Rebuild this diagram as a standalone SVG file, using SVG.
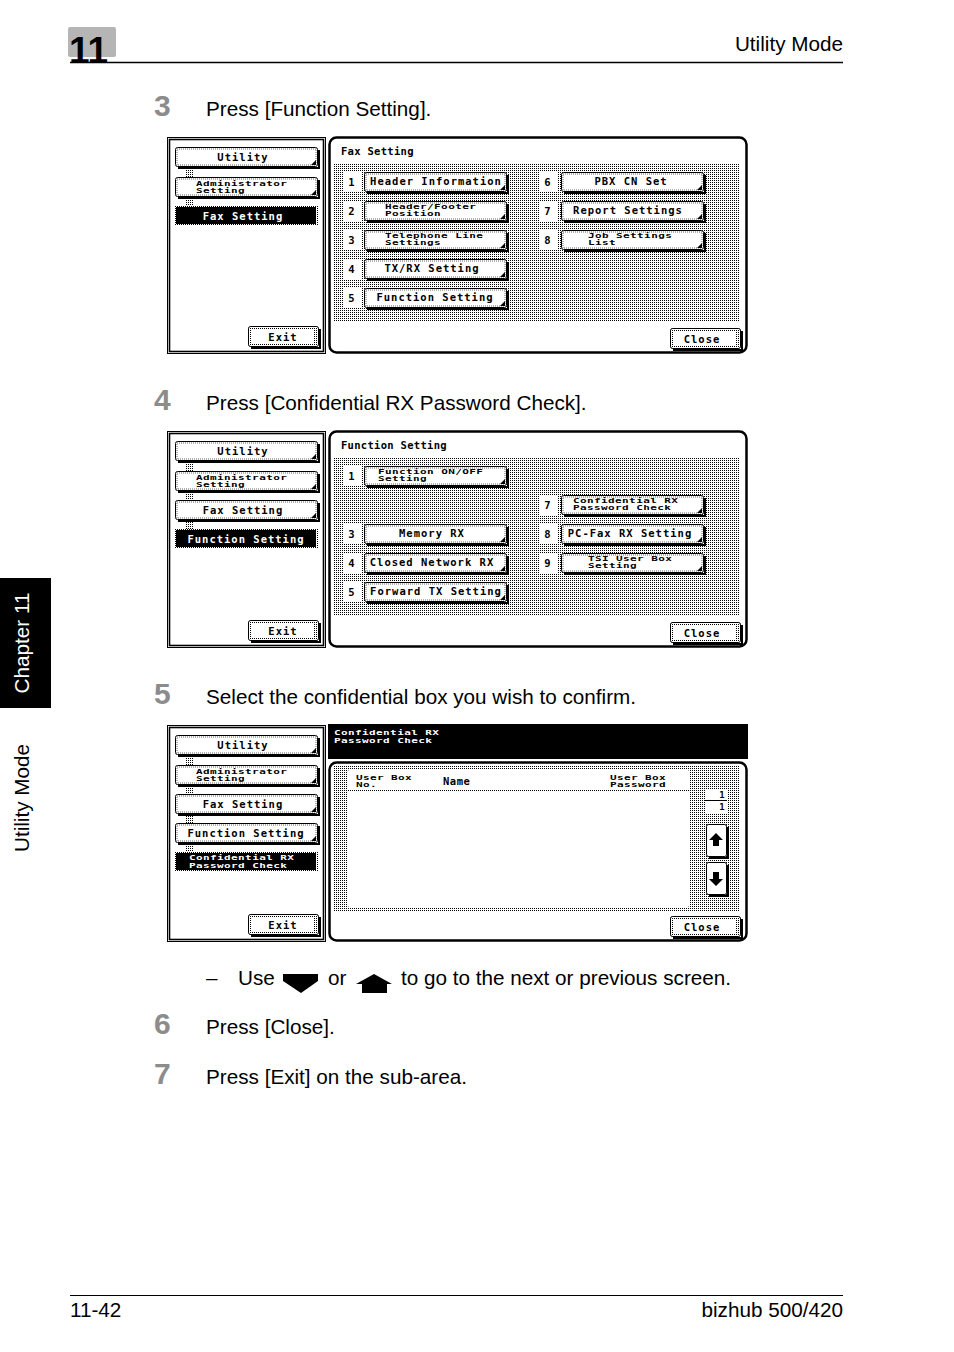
<svg xmlns="http://www.w3.org/2000/svg" xmlns:xlink="http://www.w3.org/1999/xlink" width="954" height="1352" viewBox="0 0 954 1352">
<style>
.p{font-family:"Liberation Sans",Arial,sans-serif;font-size:20.7px;fill:#000}
.n{font-family:"Liberation Sans",Arial,sans-serif;font-size:30px;font-weight:bold;fill:#8c8c8c}
.m{font-family:"DejaVu Sans Mono","Liberation Mono",monospace;font-size:10.5px;font-weight:bold;letter-spacing:1px;fill:#000}
.s{font-family:"DejaVu Sans Mono","Liberation Mono",monospace;font-size:11px;font-weight:bold;letter-spacing:.4px;fill:#000}
.c{text-anchor:middle}
.w{fill:#fff}
.ln{stroke:#000;fill:none}
</style>
<defs>
<pattern id="dots" width="2" height="2" patternUnits="userSpaceOnUse"><rect width="2" height="2" fill="#fff"/><rect width="1" height="1" fill="#000"/></pattern>
<symbol id="btn" overflow="visible">
<rect x=".5" y=".5" width="142" height="19" rx="2" fill="#fff" stroke="#000"/>
<rect x="2" y="2" width="139" height="16" fill="none" stroke="#000" stroke-width=".6" stroke-dasharray="1 1"/>
<path d="M144,3 V21 H3" fill="none" stroke="#000" stroke-width="2"/>
<path d="M141,13 V18 H136 Z"/>
</symbol>
<symbol id="sel" overflow="visible">
<rect x="0" y="0" width="143" height="20" fill="url(#dots)"/>
<rect x="1" y="1" width="140" height="17" fill="#000"/>
</symbol>
<symbol id="cb" overflow="visible">
<rect x=".5" y=".5" width="70" height="20" rx="2" fill="url(#dots)" stroke="#000"/>
<rect x="4" y="3" width="62" height="15" fill="#fff"/>
<path d="M72,3 V22 H3" fill="none" stroke="#000" stroke-width="2"/>
</symbol>
<symbol id="nb" overflow="visible"><rect width="18" height="20" fill="#fff"/></symbol>
<symbol id="ab" overflow="visible">
<rect x=".5" y=".5" width="20" height="32" rx="2" fill="#fff" stroke="#000"/>
<path d="M22,3 V34 H3" fill="none" stroke="#000" stroke-width="2"/>
</symbol>
<symbol id="stubs" overflow="visible">
<rect x="185" y="169" width="9" height="8" fill="url(#dots)"/>
<rect x="185" y="199" width="9" height="7" fill="url(#dots)"/>
</symbol>
<symbol id="leftpanel" overflow="visible">
<rect x="167.5" y="137.5" width="158" height="216" fill="#fff" stroke="#000"/>
<rect x="169.5" y="139.5" width="154" height="212" fill="none" stroke="#000" stroke-width="1.6"/>
</symbol>
</defs>

<g id="header">
<rect x="68" y="27" width="48" height="30" rx="2" fill="#b5b5b5"/>
<text x="69" y="63" style="font-family:'Liberation Sans',Arial,sans-serif;font-size:37px;font-weight:bold" fill="#000">11</text>
<line x1="70" y1="62.5" x2="843" y2="62.5" stroke="#000" stroke-width="1.3"/>
<text class="p" x="843" y="51" text-anchor="end">Utility Mode</text>
</g>

<g id="sidetab">
<rect x="0" y="578" width="51" height="130" fill="#000"/>
<text class="p w c" transform="translate(29,643) rotate(-90)">Chapter 11</text>
<text class="p c" transform="translate(29,798) rotate(-90)">Utility Mode</text>
</g>

<g id="step3">
<text class="n" x="154" y="116">3</text>
<text class="p" x="206" y="116">Press [Function Setting].</text>
</g>

<g id="screen1">
<use href="#leftpanel"/>
<use href="#stubs"/>
<use href="#btn" x="175" y="147"/>
<use href="#btn" x="175" y="177"/>
<use href="#sel" x="175" y="206"/>
<text class="m c" x="243" y="161">Utility</text>
<text class="s" transform="translate(196,186) scale(1,.62)">Administrator</text>
<text class="s" transform="translate(196,193) scale(1,.62)">Setting</text>
<text class="m c w" x="243" y="220">Fax Setting</text>
<use href="#cb" x="248" y="326"/>
<text class="m c" x="283" y="341">Exit</text>
<rect x="329.5" y="137.5" width="417" height="215" rx="7" fill="#fff" stroke="#000" stroke-width="2.5"/>
<text class="m" x="341" y="155" style="letter-spacing:.3px">Fax Setting</text>
<rect x="334" y="163" width="406" height="159" fill="url(#dots)"/>
<use href="#nb" x="343" y="172"/><use href="#nb" x="343" y="201"/><use href="#nb" x="343" y="230"/><use href="#nb" x="343" y="259"/><use href="#nb" x="343" y="288"/>
<use href="#nb" x="539" y="172"/><use href="#nb" x="539" y="201"/><use href="#nb" x="539" y="230"/>
<text class="m c" x="352" y="186">1</text><text class="m c" x="352" y="215">2</text><text class="m c" x="352" y="244">3</text><text class="m c" x="352" y="273">4</text><text class="m c" x="352" y="302">5</text>
<text class="m c" x="548" y="186">6</text><text class="m c" x="548" y="215">7</text><text class="m c" x="548" y="244">8</text>
<use href="#btn" x="364" y="172"/><use href="#btn" x="364" y="201"/><use href="#btn" x="364" y="230"/><use href="#btn" x="364" y="259"/><use href="#btn" x="364" y="288"/>
<use href="#btn" x="561" y="172"/><use href="#btn" x="561" y="201"/><use href="#btn" x="561" y="230"/>
<text class="m c" x="436" y="185">Header Information</text>
<text class="s" transform="translate(385,209) scale(1,.62)">Header/Footer</text>
<text class="s" transform="translate(385,216) scale(1,.62)">Position</text>
<text class="s" transform="translate(385,238) scale(1,.62)">Telephone Line</text>
<text class="s" transform="translate(385,245) scale(1,.62)">Settings</text>
<text class="m c" x="432" y="272">TX/RX Setting</text>
<text class="m c" x="435" y="301">Function Setting</text>
<text class="m c" x="631" y="185">PBX CN Set</text>
<text class="m c" x="628" y="214">Report Settings</text>
<text class="s" transform="translate(588,238) scale(1,.62)">Job Settings</text>
<text class="s" transform="translate(588,245) scale(1,.62)">List</text>
<use href="#cb" x="670" y="328"/>
<text class="m c" x="702" y="343">Close</text>
</g>

<g id="step4">
<text class="n" x="154" y="410">4</text>
<text class="p" x="206" y="410">Press [Confidential RX Password Check].</text>
</g>

<g id="screen2" transform="translate(0,294)">
<use href="#leftpanel"/>
<use href="#stubs"/>
<rect x="185" y="228" width="9" height="7" fill="url(#dots)"/>
<use href="#btn" x="175" y="147"/>
<use href="#btn" x="175" y="177"/>
<use href="#btn" x="175" y="206"/>
<use href="#sel" x="175" y="235"/>
<text class="m c" x="243" y="161">Utility</text>
<text class="s" transform="translate(196,186) scale(1,.62)">Administrator</text>
<text class="s" transform="translate(196,193) scale(1,.62)">Setting</text>
<text class="m c" x="243" y="220">Fax Setting</text>
<text class="m c w" x="246" y="249">Function Setting</text>
<use href="#cb" x="248" y="326"/>
<text class="m c" x="283" y="341">Exit</text>
<rect x="329.5" y="137.5" width="417" height="215" rx="7" fill="#fff" stroke="#000" stroke-width="2.5"/>
<text class="m" x="341" y="155" style="letter-spacing:.3px">Function Setting</text>
<rect x="334" y="163" width="406" height="159" fill="url(#dots)"/>
<use href="#nb" x="343" y="172"/><use href="#nb" x="343" y="230"/><use href="#nb" x="343" y="259"/><use href="#nb" x="343" y="288"/>
<use href="#nb" x="539" y="201"/><use href="#nb" x="539" y="230"/><use href="#nb" x="539" y="259"/>
<text class="m c" x="352" y="186">1</text><text class="m c" x="352" y="244">3</text><text class="m c" x="352" y="273">4</text><text class="m c" x="352" y="302">5</text>
<text class="m c" x="548" y="215">7</text><text class="m c" x="548" y="244">8</text><text class="m c" x="548" y="273">9</text>
<use href="#btn" x="364" y="172"/><use href="#btn" x="364" y="230"/><use href="#btn" x="364" y="259"/><use href="#btn" x="364" y="288"/>
<use href="#btn" x="561" y="201"/><use href="#btn" x="561" y="230"/><use href="#btn" x="561" y="259"/>
<text class="s" transform="translate(378,180) scale(1,.62)">Function ON/OFF</text>
<text class="s" transform="translate(378,187) scale(1,.62)">Setting</text>
<text class="m c" x="432" y="243">Memory RX</text>
<text class="m c" x="432" y="272">Closed Network RX</text>
<text class="m c" x="436" y="301">Forward TX Setting</text>
<text class="s" transform="translate(573,209) scale(1,.62)">Confidential RX</text>
<text class="s" transform="translate(573,216) scale(1,.62)">Password Check</text>
<text class="m c" x="630" y="243">PC-Fax RX Setting</text>
<text class="s" transform="translate(588,267) scale(1,.62)">TSI User Box</text>
<text class="s" transform="translate(588,274) scale(1,.62)">Setting</text>
<use href="#cb" x="670" y="328"/>
<text class="m c" x="702" y="343">Close</text>
</g>

<g id="step5">
<text class="n" x="154" y="704">5</text>
<text class="p" x="206" y="704">Select the confidential box you wish to confirm.</text>
</g>

<g id="screen3" transform="translate(0,588)">
<use href="#leftpanel"/>
<use href="#stubs"/>
<rect x="185" y="228" width="9" height="7" fill="url(#dots)"/>
<rect x="185" y="257" width="9" height="7" fill="url(#dots)"/>
<use href="#btn" x="175" y="147"/>
<use href="#btn" x="175" y="177"/>
<use href="#btn" x="175" y="206"/>
<use href="#btn" x="175" y="235"/>
<use href="#sel" x="175" y="264"/>
<text class="m c" x="243" y="161">Utility</text>
<text class="s" transform="translate(196,186) scale(1,.62)">Administrator</text>
<text class="s" transform="translate(196,193) scale(1,.62)">Setting</text>
<text class="m c" x="243" y="220">Fax Setting</text>
<text class="m c" x="246" y="249">Function Setting</text>
<text class="s w" transform="translate(189,272) scale(1,.62)">Confidential RX</text>
<text class="s w" transform="translate(189,280) scale(1,.62)">Password Check</text>
<use href="#cb" x="248" y="326"/>
<text class="m c" x="283" y="341">Exit</text>
<rect x="328" y="136" width="420" height="35" fill="#000"/>
<text class="s w" transform="translate(334,147) scale(1,.62)">Confidential RX</text>
<text class="s w" transform="translate(334,155) scale(1,.62)">Password Check</text>
<rect x="329.5" y="174.5" width="417" height="178" rx="7" fill="#fff" stroke="#000" stroke-width="2.5"/>
<rect x="334" y="178" width="406" height="145" fill="url(#dots)"/>
<rect x="348" y="181" width="341" height="139" rx="3" fill="#fff"/>
<line x1="348" y1="202.5" x2="689" y2="202.5" stroke="#000" stroke-dasharray="1 1"/>
<text class="s" transform="translate(356,192) scale(1,.62)">User Box</text>
<text class="s" transform="translate(356,199) scale(1,.62)">No.</text>
<text class="m" x="443" y="197" style="letter-spacing:.5px">Name</text>
<text class="s" transform="translate(610,192) scale(1,.62)">User Box</text>
<text class="s" transform="translate(610,199) scale(1,.62)">Password</text>
<rect x="705" y="201" width="22" height="24" fill="#fff"/>
<text class="s" x="725" y="210" text-anchor="end" style="font-size:9px">1</text>
<line x1="705" y1="212.5" x2="727" y2="212.5" stroke="#000"/>
<text class="s" x="725" y="222" text-anchor="end" style="font-size:9px">1</text>
<use href="#ab" x="706" y="236"/>
<use href="#ab" x="706" y="274"/>
<path d="M716,245 L723,252 H719 V258 H713 V252 H709 Z"/>
<path d="M716,298 L723,291 H719 V284 H713 V291 H709 Z"/>
<use href="#cb" x="670" y="328"/>
<text class="m c" x="702" y="343">Close</text>
</g>

<g id="note">
<text class="p" x="206" y="985">–</text>
<text class="p" x="238" y="985">Use</text>
<path d="M283,974 H318 V981 L301,993 L283,981 Z"/>
<text class="p" x="328" y="985">or</text>
<path d="M374,974 L392,984 H387 V993 H362 V984 H356 Z"/>
<text class="p" x="401" y="985">to go to the next or previous screen.</text>
</g>

<g id="step6">
<text class="n" x="154" y="1034">6</text>
<text class="p" x="206" y="1034">Press [Close].</text>
</g>

<g id="step7">
<text class="n" x="154" y="1084">7</text>
<text class="p" x="206" y="1084">Press [Exit] on the sub-area.</text>
</g>

<g id="footer">
<line x1="70" y1="1295.5" x2="843" y2="1295.5" stroke="#000"/>
<text class="p" x="70" y="1317">11-42</text>
<text class="p" x="843" y="1317" text-anchor="end">bizhub 500/420</text>
</g>
</svg>
